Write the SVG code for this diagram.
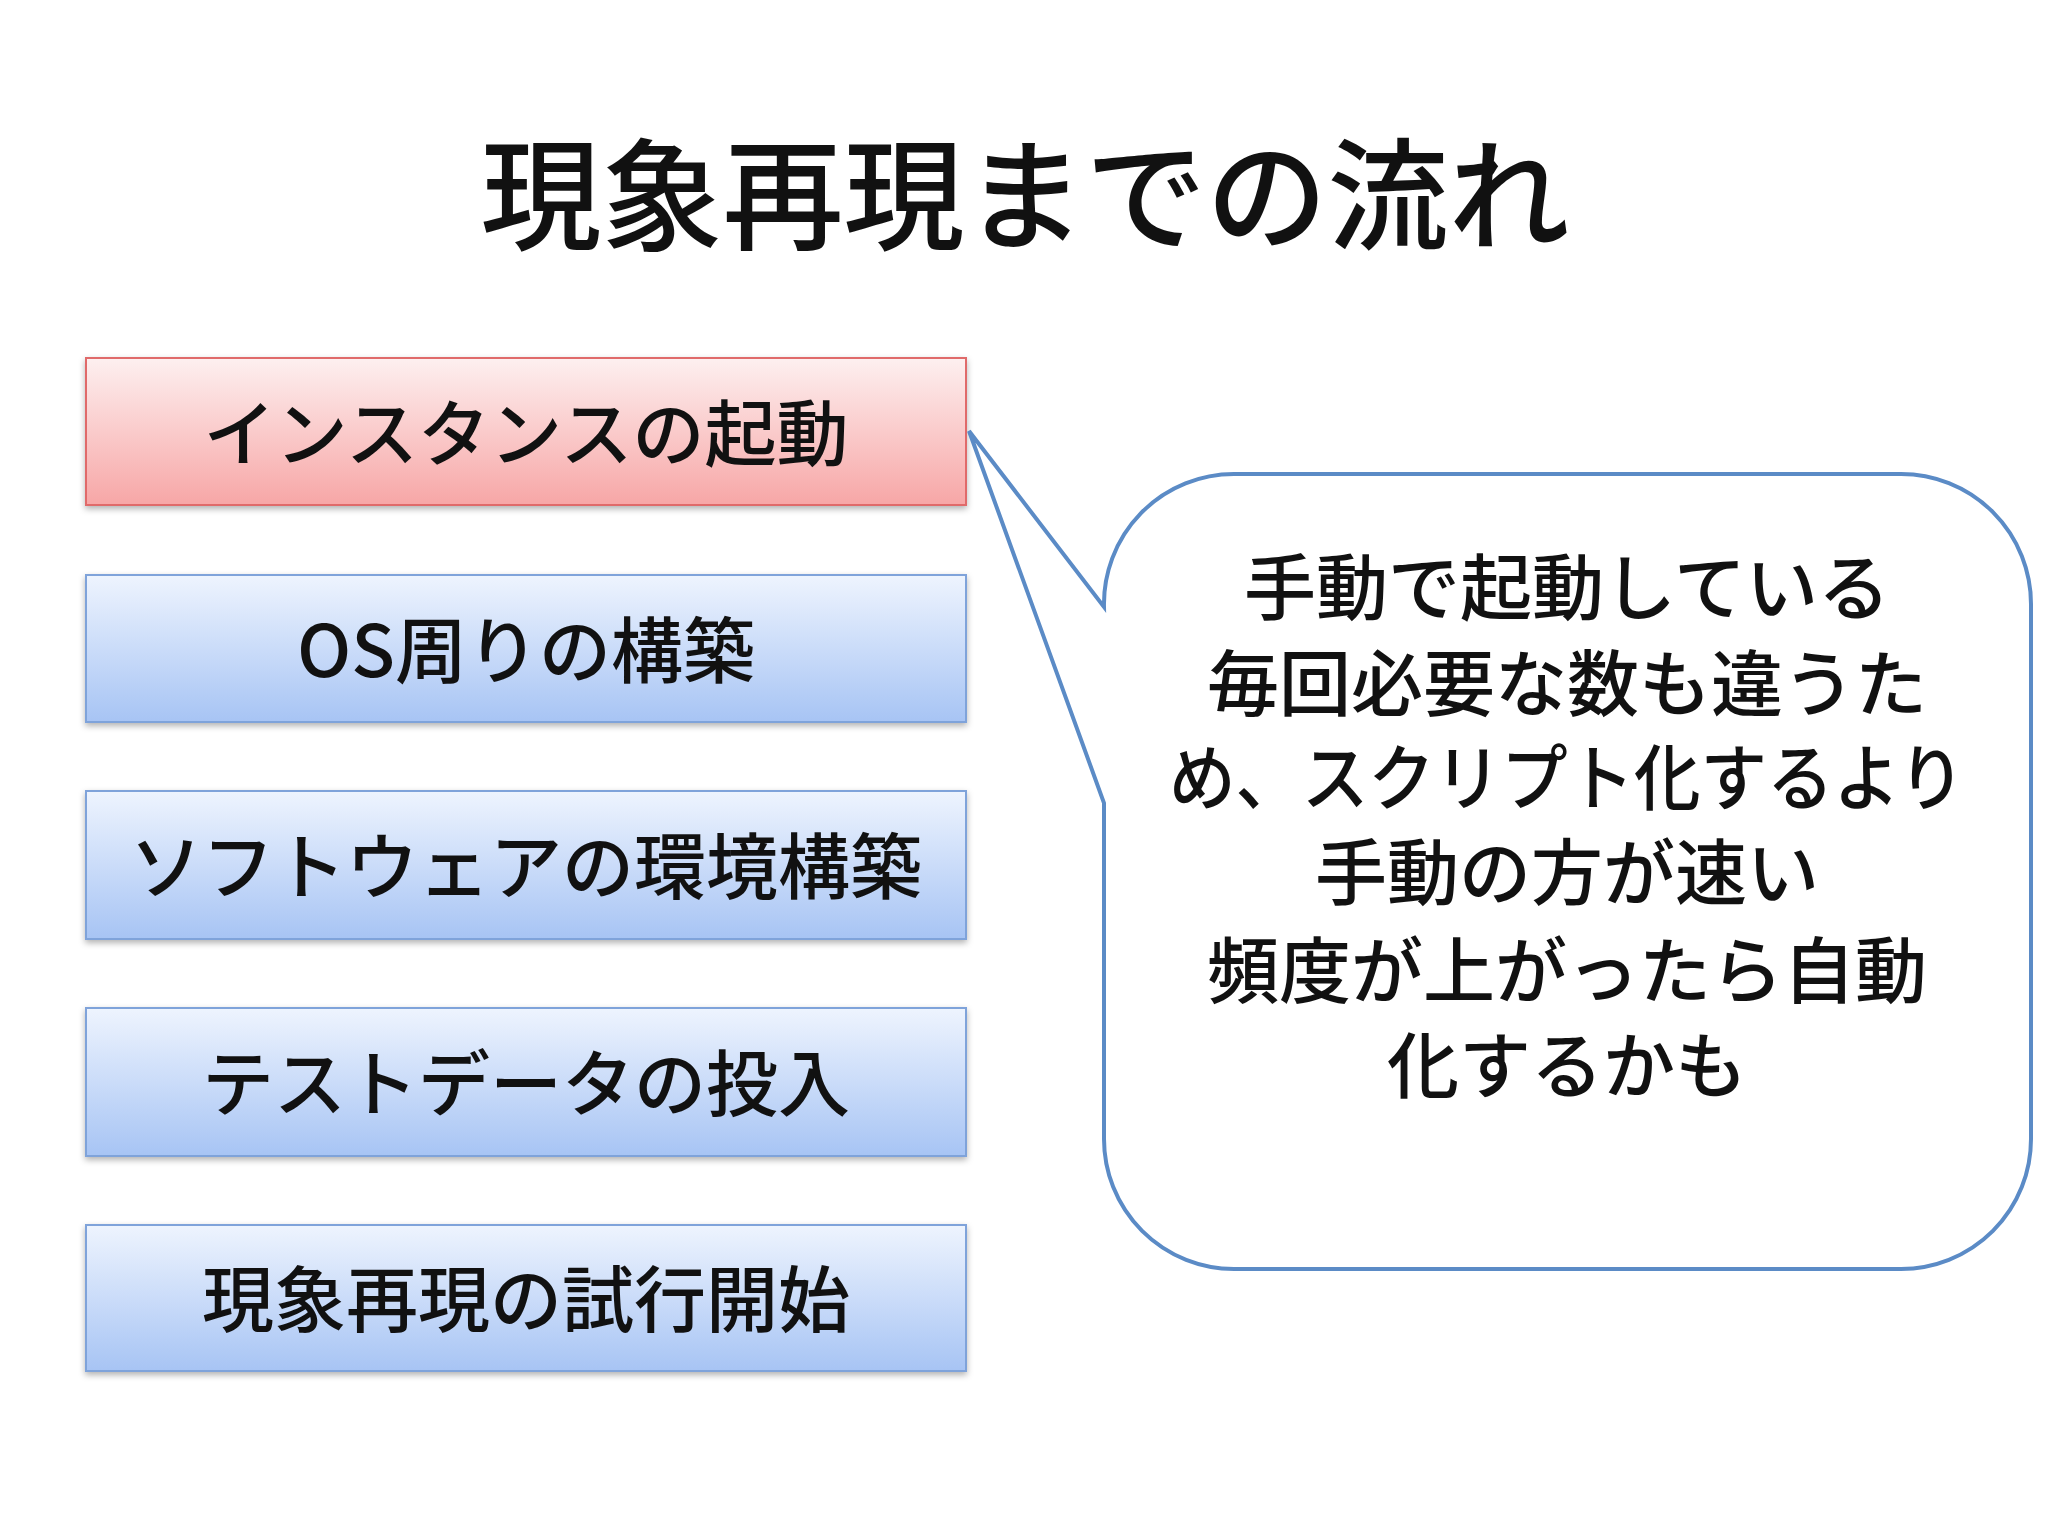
<svg xmlns="http://www.w3.org/2000/svg" width="2048" height="1536" viewBox="0 0 2048 1536">
<defs>
<linearGradient id="gr" x1="0" y1="0" x2="0" y2="1"><stop offset="0" stop-color="#FDF0F0"/><stop offset="1" stop-color="#F7A6A6"/></linearGradient>
<linearGradient id="gb" x1="0" y1="0" x2="0" y2="1"><stop offset="0" stop-color="#EEF4FE"/><stop offset="1" stop-color="#A7C4F4"/></linearGradient>
<filter id="sh" x="-5%" y="-10%" width="110%" height="130%"><feDropShadow dx="0" dy="3" stdDeviation="3" flood-color="#000" flood-opacity="0.3"/></filter>
<style>
text{font-family:"Noto Sans CJK JP","Noto Sans",sans-serif;fill:#111;text-anchor:middle}
.b{font-size:72px;font-weight:500}
.c{font-size:72px;font-weight:500}
.blue{fill:url(#gb);stroke:#7FA3DA;stroke-width:2;filter:url(#sh)}
</style>
</defs>
<rect width="2048" height="1536" fill="#fff"/>
<text x="1025" y="240" style="font-size:121px;font-weight:500">現象再現までの流れ</text>
<g id="n1"><rect x="86" y="358" width="880" height="147" fill="url(#gr)" stroke="#E06A6A" stroke-width="2" filter="url(#sh)"/><text class="b" x="526" y="460">インスタンスの起動</text></g>
<g id="n2"><rect class="blue" x="86" y="575" width="880" height="147"/><text class="b" x="526" y="677">OS周りの構築</text></g>
<g id="n3"><rect class="blue" x="86" y="791" width="880" height="148"/><text class="b" x="526" y="893">ソフトウェアの環境構築</text></g>
<g id="n4"><rect class="blue" x="86" y="1008" width="880" height="148"/><text class="b" x="526" y="1110">テストデータの投入</text></g>
<g id="n5"><rect class="blue" x="86" y="1225" width="880" height="146"/><text class="b" x="526" y="1326">現象再現の試行開始</text></g>
<g id="callout">
<path d="M1234,474 H1901 A130,130 0 0 1 2031,604 V1139 A130,130 0 0 1 1901,1269 H1234 A130,130 0 0 1 1104,1139 V803 L969,431 L1104,607 A130,130 0 0 1 1234,474 Z" fill="#fff" stroke="#5B8BC6" stroke-width="4"/>
<text class="c" x="1567" y="614">手動で起動している</text>
<text class="c" x="1567" y="710">毎回必要な数も違うた</text>
<text class="c" x="1567" y="804" textLength="796" lengthAdjust="spacingAndGlyphs">め、スクリプト化するより</text>
<text class="c" x="1567" y="899">手動の方が速い</text>
<text class="c" x="1567" y="997">頻度が上がったら自動</text>
<text class="c" x="1567" y="1092">化するかも</text>
</g>
<g id="connectors"></g>
</svg>
